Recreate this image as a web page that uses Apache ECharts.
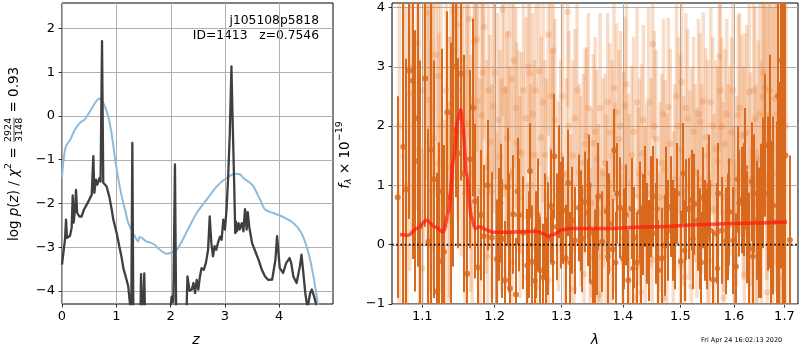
<!DOCTYPE html>
<html><head><meta charset="utf-8">
<script src="https://cdn.jsdelivr.net/npm/echarts@6/dist/echarts.min.js"></script>
<style>html,body{margin:0;padding:0;background:#fff}#c{width:800px;height:350px}</style>
</head><body><div id="c"></div>
<script>
// ---------- Left panel: p(z) and prior ----------
const pzZ = [0.00,0.055,0.074,0.092,0.147,0.178,0.197,0.215,0.24,0.258,0.28,0.32,0.36,0.405,0.455,0.50,0.547,0.577,0.595,0.626,0.65,0.69,0.71,0.737,0.76,0.79,0.82,0.87,0.915,0.945,0.98,1.007,1.055,1.10,1.13,1.16,1.19,1.22,1.25,1.275,1.295,1.315,1.35,1.44,1.455,1.475,1.50,1.515,1.535,1.60,1.80,1.97,2.02,2.05,2.08,2.105,2.20,2.29,2.31,2.35,2.39,2.42,2.45,2.48,2.51,2.54,2.57,2.61,2.65,2.69,2.72,2.75,2.78,2.81,2.84,2.87,2.91,2.94,2.97,3.00,3.03,3.06,3.09,3.12,3.14,3.17,3.19,3.20,3.22,3.25,3.27,3.31,3.34,3.37,3.40,3.42,3.45,3.50,3.56,3.62,3.68,3.74,3.80,3.87,3.93,3.96,4.01,4.07,4.13,4.19,4.22,4.26,4.32,4.38,4.41,4.45,4.48,4.52,4.57,4.60,4.64,4.70,4.74];
const pzLogP = [-3.40,-2.83,-2.37,-2.79,-2.74,-2.56,-1.82,-2.44,-2.14,-1.69,-2.22,-2.30,-2.30,-2.14,-2.03,-1.92,-1.80,-0.92,-1.76,-1.46,-1.57,-1.42,-1.50,1.71,-1.53,-1.50,-1.61,-1.84,-2.14,-2.37,-2.40,-2.68,-2.98,-3.25,-3.48,-3.50,-3.75,-3.90,-4.28,-4.70,-0.62,-4.80,-5.20,-5.00,-3.62,-5.00,-5.00,-3.60,-5.00,-5.40,-5.10,-4.70,-4.13,-4.25,-1.11,-5.00,-5.30,-4.60,-3.67,-4.00,-3.97,-3.82,-4.05,-3.75,-3.97,-3.67,-3.48,-3.52,-3.36,-3.06,-2.30,-2.91,-3.21,-2.98,-3.06,-2.91,-2.76,-2.83,-2.37,-2.60,-2.14,-1.38,-0.39,1.13,-0.01,-1.53,-2.68,-2.41,-2.64,-2.45,-2.60,-2.45,-2.64,-2.13,-2.60,-2.20,-2.55,-2.91,-3.10,-3.29,-3.52,-3.67,-3.75,-3.74,-3.29,-2.75,-3.48,-3.59,-3.36,-3.25,-3.36,-3.67,-3.82,-3.44,-3.17,-3.67,-4.05,-4.40,-4.05,-3.97,-4.12,-4.40,-4.80];
const priorZ = [0,0.01,0.055,0.086,0.15,0.24,0.33,0.42,0.52,0.61,0.69,0.76,0.85,0.91,0.98,1.04,1.10,1.16,1.22,1.28,1.34,1.40,1.43,1.48,1.55,1.62,1.70,1.79,1.93,2.11,2.30,2.48,2.66,2.85,3.03,3.19,3.28,3.34,3.46,3.52,3.65,3.74,3.89,4.05,4.26,4.41,4.54,4.63,4.70,4.76];
const priorLogP = [-1.40,-1.23,-0.77,-0.66,-0.55,-0.31,-0.16,-0.08,0.11,0.30,0.40,0.30,-0.01,-0.38,-1.00,-1.46,-1.84,-2.14,-2.45,-2.60,-2.75,-2.87,-2.76,-2.80,-2.87,-2.89,-2.94,-3.05,-3.15,-3.06,-2.64,-2.22,-1.92,-1.61,-1.42,-1.32,-1.34,-1.42,-1.53,-1.60,-1.92,-2.14,-2.22,-2.30,-2.45,-2.68,-3.14,-3.67,-4.20,-4.70];
const zTicks = [0,1,2,3,4];
const logpTicks = [-4,-3,-2,-1,0,1,2];

// ---------- Right panel: spectrum ----------
const darkLam = [1.0680,1.0752,1.0787,1.0830,1.0874,1.0904,1.0939,1.0970,1.1040,1.1080,1.1120,1.1156,1.1192,1.1227,1.1260,1.1291,1.1336,1.1380,1.1418,1.1455,1.1487,1.1524,1.1560,1.1611,1.1649,1.1687,1.1719,1.1757,1.1800,1.1843,1.1899,1.1957,1.2030,1.2063,1.2111,1.2150,1.2189,1.2223,1.2272,1.2311,1.2356,1.2420,1.2480,1.2520,1.2555,1.2596,1.2636,1.2672,1.2722,1.2764,1.2800,1.2840,1.2891,1.2930,1.2969,1.3031,1.3069,1.3110,1.3173,1.3216,1.3280,1.3333,1.3376,1.3420,1.3460,1.3501,1.3538,1.3592,1.3657,1.3729,1.3772,1.3828,1.3855,1.3905,1.3951,1.3997,1.4052,1.4091,1.4148,1.4193,1.4234,1.4290,1.4337,1.4376,1.4416,1.4475,1.4521,1.4568,1.4608,1.4668,1.4726,1.4774,1.4827,1.4874,1.4946,1.5007,1.5054,1.5103,1.5162,1.5206,1.5254,1.5317,1.5359,1.5409,1.5452,1.5495,1.5545,1.5607,1.5670,1.5701,1.5764,1.5846,1.5910,1.5986,1.6038,1.6102,1.6148,1.6199,1.6245,1.6296,1.6343,1.6389,1.6442,1.6493,1.6561,1.6613,1.6673,1.6727,1.6774,1.6843,1.6889,1.6936,1.6975,1.7020,1.7113];
const darkF = [0.80,1.65,0.93,2.93,2.76,1.41,2.13,0.30,2.80,0.05,1.60,1.10,-0.79,-0.28,0.90,-0.12,2.23,0.80,1.93,3.00,1.54,2.88,1.20,-0.49,1.44,2.31,0.73,-0.38,0.50,0.14,1.00,0.12,-0.24,0.34,0.10,-0.60,0.97,-0.74,0.51,-0.84,0.50,0.20,-0.35,1.24,-0.29,-0.61,0.50,-0.43,-0.55,-0.49,0.10,0.65,1.49,0.30,1.06,0.58,-0.23,1.04,0.41,0.07,0.62,0.10,0.72,0.54,0.20,-0.63,-0.26,0.81,0.05,0.56,0.35,-0.08,1.59,0.86,0.62,-0.23,0.50,-0.60,0.61,0.12,-0.30,0.55,0.34,0.81,0.19,0.64,0.81,0.19,-0.43,-0.23,-0.01,0.24,0.64,0.24,0.86,-0.28,1.20,0.59,0.61,0.75,0.68,0.41,0.10,0.79,0.24,0.10,0.24,-0.59,0.19,0.86,0.24,0.06,0.55,0.07,-0.37,0.70,0.75,0.76,0.30,-0.07,1.06,0.86,0.41,0.20,1.04,1.67,0.86,0.35,0.66,0.38,0.24,3.10,2.00,1.50,0.08];
const darkErr = [1.7,3.0,2.2,2.5,3.0,2.2,2.5,2.8,2.5,1.9,
  2.6,2.0,2.0,2.0,2.4,1.8,1.7,2.6,2.3,2.2,
  1.6,1.8,2.0,1.6,1.5,1.5,1.3,1.2,1.1,1.2,
  1.1,1.1,1.0,0.95,1.0,1.0,1.0,0.95,1.0,0.95,
  0.95,0.95,0.95,0.8,0.95,0.9,0.95,0.9,0.9,0.95,
  0.95,0.95,1.05,0.9,0.95,0.9,0.9,0.9,0.9,0.9,
  0.9,0.9,0.85,0.9,0.85,0.9,0.85,0.9,0.85,0.85,
  0.85,0.85,0.7,0.85,0.85,0.85,0.85,0.85,0.85,0.85,
  0.85,0.85,0.85,0.85,0.85,0.85,0.85,0.85,0.85,0.85,
  0.85,0.85,0.85,0.85,0.85,0.85,0.85,0.85,0.85,0.85,
  0.85,0.85,0.85,0.85,0.85,0.85,0.85,0.85,0.85,0.85,
  0.9,0.9,0.9,0.9,0.9,0.9,0.9,0.95,0.95,0.95,
  1.0,1.0,1.0,1.1,1.1,1.2,1.3,1.4,1.5,1.7,
  2.5,3.5,4.0,4.5,1.42];
// second (interleaved) dark spectrum
const dark2Lam = [1.2087,1.2206,1.2334,1.2500,1.2616,1.2743,1.2866,1.3000,1.3140,1.3306,1.3440,1.3565,1.3750,1.3880,1.4025,1.4170,1.4314,1.4446,1.4588,1.4750,1.4910,1.5078,1.5230,1.5384,1.5520,1.5686,1.5878,1.6070,1.6222,1.6366,1.6527,1.6700,1.6866];
const dark2F = [0.7,0.2,0.9,0.0,0.0,0.3,-0.3,0.5,-0.3,0.4,1.0,0.0,-0.2,-0.3,0.1,-0.4,-0.2,-0.1,0.6,0.8,0.1,-0.1,0.1,-0.3,1.0,-0.4,0.3,1.1,1.3,-0.2,0.4,1.4,2.5];
const dark2Err = [1.0,1.0,0.9,0.9,0.9,0.9,0.9,0.9,0.85,0.85,0.85,0.85,0.85,0.85,0.85,0.85,0.85,0.85,0.85,0.85,0.85,0.85,0.85,0.85,0.85,0.85,0.9,0.9,1.0,1.1,1.3,1.8,4.0];
const lightLam = [1.0761,1.0839,1.0934,1.1058,1.1080,1.1102,1.1133,1.1147,1.1214,1.1224,1.1349,1.1386,1.1418,1.1441,1.1464,1.1548,1.1579,1.1611,1.1639,1.1709,1.1743,1.1757,1.1814,1.1847,1.1885,1.1932,1.1981,1.2030,1.2077,1.2111,1.2160,1.2199,1.2248,1.2322,1.2356,1.2396,1.2460,1.2495,1.2520,1.2586,1.2657,1.2749,1.2799,1.2836,1.2876,1.2954,1.3059,1.3102,1.3149,1.3216,1.3285,1.3349,1.3403,1.3457,1.3511,1.3565,1.3592,1.3647,1.3701,1.3746,1.3784,1.3850,1.3895,1.3934,1.4035,1.4091,1.4148,1.4205,1.4262,1.4319,1.4405,1.4509,1.4568,1.4608,1.4668,1.4726,1.4785,1.4874,1.4964,1.5025,1.5085,1.5134,1.5206,1.5267,1.5359,1.5420,1.5470,1.5532,1.5595,1.5657,1.5719,1.5764,1.5827,1.5891,1.5955,1.6019,1.6083,1.6148,1.6212,1.6296,1.6343,1.6408,1.6474,1.6561,1.6606,1.6673,1.6741,1.6808,1.6875,1.6909,1.1000,1.1300,1.1680,1.1900,1.2250,1.2480,1.2620,1.2800,1.3200,1.3360,1.3600,1.3800,1.4000,1.4300,1.4500,1.4700,1.5000,1.5200,1.5500,1.5800,1.6000,1.6200,1.6450,1.6650,1.6980];
const lightF = [1.48,2.55,3.39,3.90,2.44,1.71,2.30,1.79,2.84,1.37,0.41,3.45,3.93,3.28,3.71,3.14,0.86,2.04,3.80,3.42,3.46,2.41,2.18,3.67,1.31,1.73,2.33,0.10,1.48,3.96,0.97,3.54,2.78,1.71,1.57,1.54,2.13,3.00,2.89,1.51,2.92,1.51,3.54,2.50,3.27,0.81,-0.27,3.92,0.36,2.13,1.21,1.38,1.83,-0.21,1.71,1.44,0.53,-0.21,1.38,2.40,1.89,2.64,2.23,1.78,2.34,1.04,1.51,-0.89,0.81,1.54,0.86,3.38,1.78,-0.27,1.38,1.27,2.32,0.41,2.00,2.74,-0.55,2.13,1.47,1.21,2.07,2.41,1.81,-0.27,2.00,1.61,3.17,1.99,1.69,1.10,1.89,-0.18,2.18,1.84,1.86,2.57,-0.15,2.12,1.44,2.49,2.64,2.18,1.66,2.46,2.55,-0.55,-0.40,0.30,0.50,-0.20,-0.30,-0.55,-0.70,-0.60,-0.75,-0.50,-0.85,-0.40,-0.30,-0.80,-0.25,-0.90,-0.35,-0.70,0.20,-0.90,0.40,-0.50,-0.20,-0.80,1.50];
const lightErr = [3.0,3.0,2.8,2.8,2.5,2.5,2.4,2.4,2.4,2.2,
  2.0,2.3,2.2,2.2,2.2,2.0,2.0,2.0,2.0,2.0,
  1.9,1.9,1.9,1.9,1.8,1.8,1.8,1.8,1.8,1.8,
  1.7,1.8,1.7,1.7,1.7,1.7,1.7,1.7,1.7,1.6,
  1.6,1.6,1.7,1.6,1.6,1.6,1.5,1.6,1.5,1.5,
  1.5,1.5,1.5,1.5,1.5,1.5,1.5,1.5,1.5,1.5,
  1.5,1.5,1.5,1.5,1.5,1.5,1.5,1.5,1.5,1.5,
  1.5,1.6,1.5,1.5,1.5,1.5,1.5,1.5,1.5,1.5,
  1.5,1.5,1.5,1.5,1.5,1.5,1.5,1.5,1.5,1.5,
  1.6,1.5,1.6,1.6,1.6,1.6,1.7,1.7,1.7,1.8,
  1.8,1.9,2.0,2.0,2.1,2.3,2.5,2.8,3.0,3.0,
  2.0,1.8,2.0,1.7,1.6,1.6,1.6,1.5,1.5,1.5,
  1.5,1.5,1.5,1.5,1.5,1.5,1.5,1.5,1.5,1.5,
  1.6,1.7,1.8,2.0,3.0];
// second (interleaved) light spectrum
const light2Lam = [1.0700,1.0800,1.0870,1.0960,1.1020,1.1115,1.1180,1.1250,1.1320,1.1370,1.1480,1.1530,1.1600,1.1660,1.1720,1.1790,1.1830,1.1910,1.1960,1.2000,1.2050,1.2100,1.2140,1.2180,1.2220,1.2280,1.2310,1.2370,1.2420,1.2530,1.2560,1.2610,1.2690,1.2720,1.2770,1.2860,1.2900,1.2990,1.3020,1.3080,1.3120,1.3180,1.3250,1.3310,1.3380,1.3430,1.3480,1.3540,1.3620,1.3670,1.3720,1.3820,1.3870,1.3960,1.4010,1.4060,1.4110,1.4180,1.4240,1.4280,1.4350,1.4380,1.4440,1.4480,1.4540,1.4640,1.4700,1.4760,1.4820,1.4900,1.4930,1.5000,1.5060,1.5100,1.5170,1.5240,1.5300,1.5330,1.5390,1.5500,1.5560,1.5620,1.5690,1.5740,1.5790,1.5860,1.5920,1.5980,1.6050,1.6110,1.6180,1.6250,1.6320,1.6380,1.6430,1.6500,1.6540,1.6580,1.6640,1.6700,1.6770,1.6840,1.6940,1.7030];
const light2F = [2.0,1.0,3.0,1.6,2.6,0.9,3.2,2.0,2.6,1.3,2.6,1.9,2.9,1.2,2.3,0.9,2.9,2.6,0.9,2.9,2.1,1.0,2.6,1.8,1.2,3.1,2.3,0.8,2.6,1.0,2.2,2.6,1.8,2.4,1.1,1.6,2.1,1.5,2.5,1.2,2.0,1.5,2.6,0.9,1.7,2.3,0.7,1.9,2.3,1.2,0.6,1.5,0.8,2.0,1.3,2.7,0.6,1.9,2.4,1.2,2.1,0.4,2.4,1.2,2.0,0.8,2.2,0.6,1.7,1.1,2.5,1.6,0.9,2.3,1.0,1.9,0.7,2.2,1.1,1.5,2.4,0.6,1.4,2.6,0.8,2.2,1.4,2.6,0.9,2.3,1.2,1.9,1.1,2.6,0.7,2.2,1.0,2.9,1.7,2.6,1.2,2.2,1.0,2.0];
const light2Err = [3.0,3.0,2.8,2.8,2.6,2.5,2.4,2.3,2.3,2.2,
  2.2,2.1,2.0,2.0,2.0,1.9,1.9,1.8,1.8,1.8,
  1.8,1.8,1.8,1.8,1.8,1.8,1.7,1.7,1.7,1.7,
  1.7,1.7,1.7,1.7,1.7,1.7,1.7,1.6,1.6,1.6,
  1.6,1.6,1.6,1.6,1.6,1.6,1.6,1.6,1.6,1.6,
  1.6,1.6,1.6,1.6,1.6,1.6,1.6,1.6,1.6,1.6,
  1.6,1.6,1.6,1.6,1.6,1.6,1.6,1.6,1.6,1.6,
  1.6,1.6,1.6,1.6,1.6,1.6,1.6,1.6,1.6,1.6,
  1.6,1.6,1.6,1.6,1.6,1.6,1.6,1.6,1.6,1.6,
  1.8,1.8,1.8,1.9,2.0,2.0,2.1,2.2,2.3,2.6,
  2.8,3.0,3.2,3.2];
const modelLam = [1.071,1.0817,1.0926,1.1058,1.117,1.128,1.135,1.142,1.148,1.152,1.155,1.160,1.167,1.172,1.179,1.188,1.197,1.224,1.248,1.263,1.273,1.280,1.288,1.301,1.313,1.364,1.45,1.545,1.62,1.705];
const modelF = [0.17,0.16,0.27,0.41,0.30,0.21,0.53,1.42,2.10,2.27,1.99,1.20,0.47,0.27,0.30,0.25,0.21,0.21,0.22,0.22,0.18,0.14,0.17,0.25,0.27,0.27,0.30,0.34,0.36,0.38];
const lamTicks = [1.1,1.2,1.3,1.4,1.5,1.6,1.7];
const fluxTicks = [-1,0,1,2,3,4];

// ---------- helpers ----------
const LN = Math.log;
const FONT = '"DejaVu Sans", sans-serif';
const minus = v => (v < 0 ? '\u2212' + Math.abs(v) : String(v));
const xr = [LN(1.0607), LN(1.7279)];

function gridSeries(vals, dim, gi) {
  return {
    type: 'custom', xAxisIndex: gi, yAxisIndex: gi, z: 1, silent: true, animation: false,
    data: vals.map(v => dim === 'x' ? [v, gi === 1 ? 0 : -1] : [gi === 1 ? 0.3 : 1, v]),
    renderItem: (params, api) => {
      const cs = params.coordSys;
      const p = api.coord([api.value(0), api.value(1)]);
      if (dim === 'x') {
        const x = Math.round(p[0]) + 0.5;
        return {type: 'line', shape: {x1: x, y1: cs.y, x2: x, y2: cs.y + cs.height}, style: {stroke: '#b0b0b0', lineWidth: 1}};
      }
      const y = Math.round(p[1]) + 0.5;
      return {type: 'line', shape: {x1: cs.x, y1: y, x2: cs.x + cs.width, y2: y}, style: {stroke: '#b0b0b0', lineWidth: 1}};
    }
  };
}
function errSeries(lam, f, err, color, w, z, snap) {
  return {
    type: 'custom', xAxisIndex: 1, yAxisIndex: 1, z: z, silent: true, animation: false,
    data: lam.map((l, i) => [LN(l), f[i] - err[i], f[i] + err[i]]),
    encode: {x: 0, y: [1, 2]},
    renderItem: (params, api) => {
      const x = api.value(0);
      const a = api.coord([x, api.value(2)]);
      const b = api.coord([x, api.value(1)]);
      const cs = params.coordSys;
      const x0 = snap ? Math.round(a[0] - w / 2) : a[0] - w / 2;
      const r = echarts.graphic.clipRectByRect(
        {x: x0, y: a[1], width: w, height: b[1] - a[1]},
        {x: cs.x, y: cs.y, width: cs.width, height: cs.height});
      if (!r) return null;
      return {type: 'rect', shape: r, style: {fill: color}};
    }
  };
}
function dotSeries(lam, f, color, size, z) {
  return {type: 'scatter', xAxisIndex: 1, yAxisIndex: 1, z: z, silent: true, symbolSize: size,
    itemStyle: {color: color}, data: lam.map((l, i) => [LN(l), f[i]])};
}

// text measuring for composed math labels
const mctx = document.createElement('canvas').getContext('2d');
function tw(t, font) { mctx.font = font; return mctx.measureText(t).width; }
function mathLabel(pieces, cx, cy) {
  const items = [];
  let x = 0;
  pieces.forEach(p => {
    const font = (p.it ? 'italic ' : '') + p.s + 'px ' + FONT;
    if (p.frac) {
      const w = Math.max(tw(p.frac[0], font), tw(p.frac[1], font)) + 2;
      items.push({type: 'text', x: x + w / 2, y: -5.2, style: {text: p.frac[0], font, fill: '#000', textAlign: 'center', textVerticalAlign: 'middle', align: 'center', verticalAlign: 'middle'}});
      items.push({type: 'text', x: x + w / 2, y: 5.4, style: {text: p.frac[1], font, fill: '#000', textAlign: 'center', textVerticalAlign: 'middle', align: 'center', verticalAlign: 'middle'}});
      items.push({type: 'rect', shape: {x: x + 1, y: -0.35, width: w - 2, height: 0.7}, style: {fill: '#000'}});
      x += w;
    } else {
      items.push({type: 'text', x: x, y: p.dy || 0, style: {text: p.t, font, fill: '#000', textAlign: 'left', textVerticalAlign: 'middle', align: 'left', verticalAlign: 'middle'}});
      x += tw(p.t, font);
    }
  });
  items.forEach(it => { if (it.type === 'rect') { it.shape.x -= x / 2; } else { it.x -= x / 2; } });
  return {type: 'group', x: cx, y: cy, rotation: Math.PI / 2, children: items, silent: true};
}

const axisTickBase = {show: true, inside: false, length: 3.5, lineStyle: {color: '#000', width: 0.8}};
const axisLabelBase = {color: '#000', fontSize: 13, fontFamily: FONT};
const DARK = '#d8691d';
const LIGHT = 'rgba(232,125,45,0.26)';

const chart = echarts.init(document.getElementById('c'), null, {renderer: 'canvas', width: 800, height: 350});
chart.setOption({
  animation: false,
  backgroundColor: '#fff',
  textStyle: {fontFamily: FONT},
  grid: [
    {left: 62, top: 3, width: 271, height: 301, show: true, borderColor: '#000', borderWidth: 1, backgroundColor: 'transparent', containLabel: false, outerBoundsMode: 'none'},
    {left: 392, top: 3, width: 406, height: 301, show: true, borderColor: '#000', borderWidth: 1, backgroundColor: 'transparent', containLabel: false, outerBoundsMode: 'none'}
  ],
  xAxis: [
    {type: 'value', gridIndex: 0, min: 0, max: 4.99, axisLine: {show: false, onZero: false}, splitLine: {show: false},
     axisTick: Object.assign({customValues: zTicks}, axisTickBase),
     axisLabel: Object.assign({customValues: zTicks, margin: 6, formatter: v => minus(v)}, axisLabelBase)},
    {type: 'value', gridIndex: 1, min: xr[0], max: xr[1], axisLine: {show: false, onZero: false}, splitLine: {show: false},
     axisTick: Object.assign({customValues: lamTicks.map(LN)}, axisTickBase),
     axisLabel: Object.assign({customValues: lamTicks.map(LN), margin: 6, formatter: v => Math.exp(v).toFixed(1)}, axisLabelBase)}
  ],
  yAxis: [
    {type: 'value', gridIndex: 0, min: -4.3, max: 2.58, axisLine: {show: false, onZero: false}, splitLine: {show: false},
     axisTick: Object.assign({customValues: logpTicks}, axisTickBase),
     axisLabel: Object.assign({customValues: logpTicks, margin: 7, formatter: v => minus(v)}, axisLabelBase)},
    {type: 'value', gridIndex: 1, min: -1, max: 4.07, axisLine: {show: false, onZero: false}, splitLine: {show: false},
     axisTick: Object.assign({customValues: fluxTicks}, axisTickBase),
     axisLabel: Object.assign({customValues: fluxTicks, margin: 7, formatter: v => minus(v)}, axisLabelBase)}
  ],
  series: [
    gridSeries(zTicks, 'x', 0),
    gridSeries(logpTicks, 'y', 0),
    gridSeries(lamTicks.map(LN), 'x', 1),
    gridSeries(fluxTicks, 'y', 1),
    {type: 'line', xAxisIndex: 0, yAxisIndex: 0, z: 3, silent: true, symbol: 'none', smooth: 0.3,
     data: priorZ.map((z, i) => [z, priorLogP[i]]), lineStyle: {color: '#8ebbdc', width: 2, join: 'round'}},
    {type: 'line', xAxisIndex: 0, yAxisIndex: 0, z: 4, silent: true, symbol: 'none',
     data: pzZ.map((z, i) => [z, pzLogP[i]]), lineStyle: {color: '#3f3f3f', width: 2.3, join: 'round'}},
    errSeries(lightLam, lightF, lightErr, LIGHT, 3.5, 2, false),
    errSeries(light2Lam, light2F, light2Err, LIGHT, 3.5, 2, false),
    dotSeries(lightLam, lightF, 'rgba(232,125,45,0.3)', 6.5, 3),
    dotSeries(light2Lam, light2F, 'rgba(232,125,45,0.3)', 6.5, 3),
    errSeries(darkLam, darkF, darkErr, DARK, 2, 4, true),
    errSeries(dark2Lam, dark2F, dark2Err, DARK, 2, 4, true),
    dotSeries(darkLam, darkF, DARK, 6, 5),
    dotSeries(dark2Lam, dark2F, DARK, 5.5, 5),
    {type: 'line', xAxisIndex: 1, yAxisIndex: 1, z: 6, silent: true, symbol: 'none', smooth: 0.3, smoothMonotone: 'x',
     data: modelLam.map((l, i) => [LN(l), modelF[i]]), lineStyle: {color: 'rgba(255,25,15,0.72)', width: 3.5, join: 'round'}},
    {type: 'line', xAxisIndex: 1, yAxisIndex: 1, z: 7, silent: true, symbol: 'none',
     data: [[xr[0], 0], [xr[1], 0]], lineStyle: {color: '#000', width: 1.6, type: [1.6, 2.6]}}
  ],
  graphic: {elements: [
    {type: 'text', x: 319, y: 21, silent: true, style: {text: 'j105108p5818', font: '12.3px ' + FONT, fill: '#000', textAlign: 'right', textVerticalAlign: 'middle', align: 'right', verticalAlign: 'middle'}},
    {type: 'text', x: 319, y: 36, silent: true, style: {text: 'ID=1413   z=0.7546', font: '12.3px ' + FONT, fill: '#000', textAlign: 'right', textVerticalAlign: 'middle', align: 'right', verticalAlign: 'middle'}},
    {type: 'text', x: 196, y: 340, silent: true, style: {text: 'z', font: 'italic 14px ' + FONT, fill: '#000', textAlign: 'center', textVerticalAlign: 'middle', align: 'center', verticalAlign: 'middle'}},
    {type: 'text', x: 595, y: 340, silent: true, style: {text: '\u03bb', font: 'italic 14px ' + FONT, fill: '#000', textAlign: 'center', textVerticalAlign: 'middle', align: 'center', verticalAlign: 'middle'}},
    {type: 'text', x: 701, y: 340, silent: true, style: {text: 'Fri Apr 24 16:02:13 2020', font: '6.5px ' + FONT, fill: '#000', textAlign: 'left', textVerticalAlign: 'middle', align: 'left', verticalAlign: 'middle'}},
    mathLabel([
      {t: 'log ', s: 13.5}, {t: 'p', s: 13.5, it: true}, {t: '(', s: 13.5}, {t: 'z', s: 13.5, it: true}, {t: ') / ', s: 13.5},
      {t: '\u03c7', s: 13.5, it: true}, {t: '2', s: 9.5, dy: -5.5}, {t: ' = ', s: 13.5},
      {frac: ['2924', '3148'], s: 9.5}, {t: ' = 0.93', s: 13.5}
    ], 14, 154),
    mathLabel([
      {t: 'f', s: 13.5, it: true}, {t: '\u03bb', s: 9.5, it: true, dy: 3.5}, {t: ' \u00d7 10', s: 13.5}, {t: '\u221219', s: 9.5, dy: -5.5}
    ], 345, 155)
  ]}
});
</script>
</body></html>
